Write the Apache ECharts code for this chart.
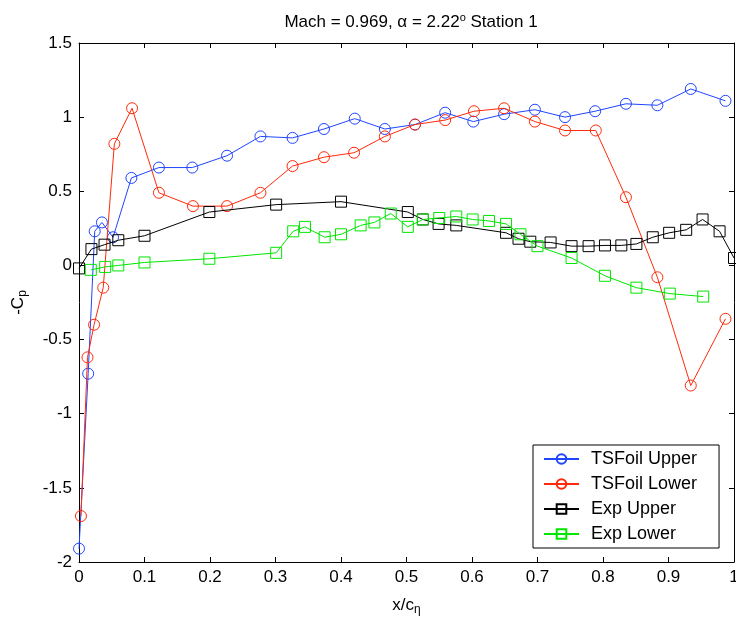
<!DOCTYPE html>
<html>
<head>
<meta charset="utf-8">
<script src="https://cdn.jsdelivr.net/npm/echarts@6/dist/echarts.min.js"></script>
<style>html,body{margin:0;padding:0;background:#fff}#c{width:736px;height:624px}</style>
</head>
<body>
<div id="c"></div>
<script>
const tsUpperX = [0, 0.014, 0.024, 0.035, 0.052, 0.080, 0.122, 0.173, 0.226, 0.277, 0.326, 0.374, 0.421, 0.467, 0.513, 0.559, 0.602, 0.649, 0.696, 0.742, 0.788, 0.835, 0.883, 0.934, 0.987];
const tsUpperY = [-1.91, -0.73, 0.23, 0.29, 0.19, 0.59, 0.66, 0.66, 0.74, 0.87, 0.86, 0.92, 0.99, 0.92, 0.95, 1.03, 0.97, 1.02, 1.05, 1.00, 1.04, 1.09, 1.08, 1.19, 1.11];
const tsLowerX = [0.003, 0.013, 0.023, 0.037, 0.054, 0.081, 0.122, 0.174, 0.226, 0.277, 0.326, 0.374, 0.420, 0.467, 0.513, 0.559, 0.603, 0.649, 0.696, 0.742, 0.789, 0.835, 0.883, 0.934, 0.987];
const tsLowerY = [-1.69, -0.62, -0.40, -0.15, 0.82, 1.06, 0.49, 0.40, 0.40, 0.49, 0.67, 0.73, 0.76, 0.87, 0.95, 0.98, 1.04, 1.06, 0.97, 0.91, 0.91, 0.46, -0.08, -0.81, -0.36];
const expUpperX = [0, 0.019, 0.039, 0.06, 0.10, 0.199, 0.301, 0.40, 0.502, 0.525, 0.549, 0.576, 0.652, 0.671, 0.689, 0.72, 0.752, 0.778, 0.803, 0.828, 0.851, 0.876, 0.901, 0.927, 0.952, 0.978, 1.0];
const expUpperY = [-0.02, 0.11, 0.14, 0.17, 0.20, 0.36, 0.41, 0.43, 0.36, 0.31, 0.28, 0.27, 0.22, 0.18, 0.16, 0.155, 0.13, 0.13, 0.135, 0.135, 0.145, 0.19, 0.22, 0.24, 0.31, 0.23, 0.05];
const expLowerX = [0.018, 0.04, 0.06, 0.10, 0.199, 0.301, 0.327, 0.345, 0.375, 0.40, 0.43, 0.451, 0.476, 0.502, 0.525, 0.55, 0.576, 0.601, 0.626, 0.652, 0.674, 0.70, 0.752, 0.803, 0.851, 0.902, 0.953];
const expLowerY = [-0.03, -0.01, 0.0, 0.02, 0.045, 0.085, 0.23, 0.26, 0.19, 0.21, 0.27, 0.29, 0.35, 0.26, 0.31, 0.32, 0.33, 0.31, 0.30, 0.28, 0.21, 0.13, 0.05, -0.07, -0.15, -0.19, -0.21];
const seriesNames = ['TSFoil Upper', 'TSFoil Lower', 'Exp Upper', 'Exp Lower'];
const titleText = 'Mach = 0.969, α = 2.22{sup|o} Station 1';

const zip = (xs, ys) => xs.map((x, i) => [x, ys[i]]);
const FONT = 'Liberation Sans, Arial, sans-serif';
const colors = ['#1f45ff', '#ff2a0a', '#000000', '#00e600'];
const symbols = ['circle', 'circle', 'rect', 'rect'];
const datas = [zip(tsUpperX, tsUpperY), zip(tsLowerX, tsLowerY), zip(expUpperX, expUpperY), zip(expLowerX, expLowerY)];

const fmt = v => String(Math.round(v * 10) / 10);
const axisCommon = {
  type: 'value',
  axisLine: { show: true, onZero: false, lineStyle: { color: '#000', width: 1 } },
  axisTick: { show: true, inside: true, length: 5, lineStyle: { color: '#000' } },
  splitLine: { show: false },
};
const chart = echarts.init(document.getElementById('c'), null, { renderer: 'canvas' });
chart.setOption({
  animation: false,
  backgroundColor: '#fff',
  title: {
    text: titleText,
    left: 406, top: 7, textAlign: 'center',
    textStyle: { fontFamily: FONT, fontSize: 17, fontWeight: 'normal', color: '#000',
      rich: { sup: { fontFamily: FONT, fontSize: 11, color: '#000', padding: [0, 0, 9, 0] } } }
  },
  grid: { left: 79, right: 2, top: 43, bottom: 62, outerBoundsMode: 'none', containLabel: false },
  xAxis: [
    Object.assign({}, axisCommon, { min: 0, max: 1, interval: 0.1, position: 'bottom',
      axisLabel: { formatter: fmt, color: '#000', fontFamily: FONT, fontSize: 17, margin: 7 },
      name: 'x/c{sub|η}', nameLocation: 'middle', nameGap: 33,
      nameTextStyle: { fontFamily: FONT, fontSize: 17, color: '#000',
        rich: { sub: { fontFamily: FONT, fontSize: 12, color: '#000', padding: [9, 0, 0, 0] } } } }),
    Object.assign({}, axisCommon, { min: 0, max: 1, interval: 0.1, position: 'top', axisLabel: { show: false } })
  ],
  yAxis: [
    Object.assign({}, axisCommon, { min: -2, max: 1.5, interval: 0.5, position: 'left',
      axisLabel: { formatter: fmt, color: '#000', fontFamily: FONT, fontSize: 17, margin: 7 },
      name: '-C{sub|p}', nameLocation: 'middle', nameRotate: 90, nameGap: 50,
      nameTextStyle: { fontFamily: FONT, fontSize: 17, color: '#000',
        rich: { sub: { fontFamily: FONT, fontSize: 12, color: '#000', padding: [9, 0, 0, 0] } } } }),
    Object.assign({}, axisCommon, { min: -2, max: 1.5, interval: 0.5, position: 'right', axisLabel: { show: false } })
  ],
  legend: {
    data: seriesNames,
    orient: 'vertical', left: 533, top: 445,
    backgroundColor: '#fff', borderColor: '#000', borderWidth: 1,
    padding: [5, 22, 5, 10], itemGap: 7, itemWidth: 35, itemHeight: 12,
    textStyle: { fontFamily: FONT, fontSize: 18, color: '#000', padding: [0, 0, 0, 7] }
  },
  series: seriesNames.map((n, i) => ({
    name: n, type: 'line', data: datas[i],
    symbol: symbols[i], symbolSize: 11,
    itemStyle: { color: 'rgba(255,255,255,0)', borderColor: colors[i], borderWidth: 1 },
    lineStyle: { color: colors[i], width: 1 },
    emphasis: { disabled: true },
    z: 2 + i
  }))
});
</script>
</body>
</html>
